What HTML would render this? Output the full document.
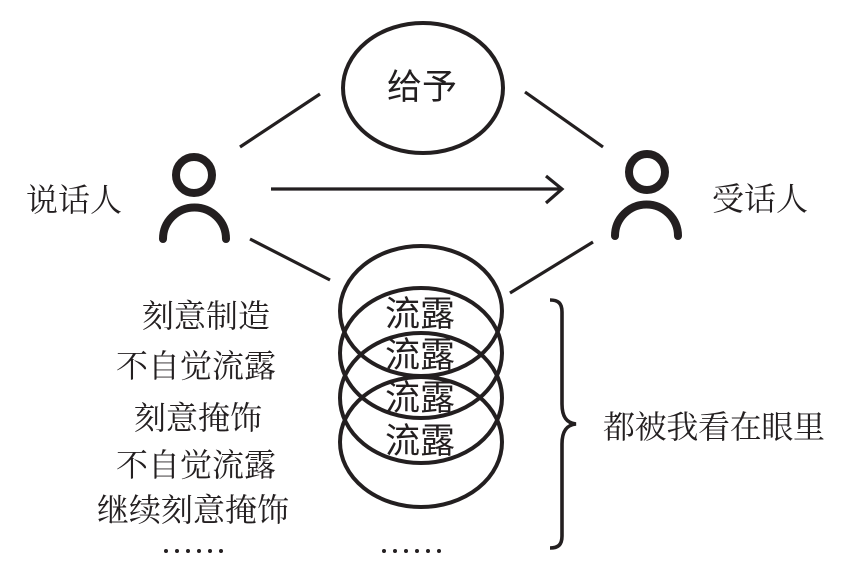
<!DOCTYPE html>
<html lang="zh"><head><meta charset="utf-8"><style>
html,body{margin:0;padding:0;background:#fff}
svg{display:block}
.s{font-family:"Liberation Serif","Noto Serif CJK SC",serif;font-size:32px;fill:#231f20}
.h{font-family:"Liberation Sans","Noto Sans CJK SC",sans-serif;font-size:35px;font-weight:400;fill:#231f20}
</style></head><body>
<svg width="851" height="587" viewBox="0 0 851 587" xmlns="http://www.w3.org/2000/svg">
<g fill="none" stroke="#231f20" stroke-width="4">
<ellipse cx="423" cy="88" rx="80" ry="65"/>
<ellipse cx="421" cy="311" rx="81" ry="65"/>
<ellipse cx="421" cy="353" rx="81" ry="65"/>
<ellipse cx="421" cy="398" rx="81" ry="65"/>
<ellipse cx="421" cy="442" rx="81" ry="65"/>
<path d="M240 147L320 94M525 92L603 147M250 239L330 280M510 293L593 242M271 189H561M546 176L562 189L546 203" stroke-width="3.2"/>
<path d="M550 300C558 300 562 303 562 312V404C562 416 566 423 576 424C566 425 562 432 562 444V536C562 545 558 548 550 548" stroke-width="3.6"/>
<g stroke-width="8" stroke-linecap="round">
<circle cx="194" cy="175" r="18"/>
<path d="M163 239A31.5 31.5 0 0 1 226 239"/>
<circle cx="647" cy="172" r="18"/>
<path d="M615 236A31.5 31.5 0 0 1 678 236"/>
</g>
</g>
<text class="h" x="387" y="99">给予</text>
<text class="h" x="385" y="326">流露</text>
<text class="h" x="385" y="367">流露</text>
<text class="h" x="385" y="410">流露</text>
<text class="h" x="385" y="453">流露</text>
<text class="s" x="26" y="211">说话人</text>
<text class="s" x="712" y="210">受话人</text>
<text class="s" x="142" y="327">刻意制造</text>
<text class="s" x="116" y="377">不自觉流露</text>
<text class="s" x="134" y="429">刻意掩饰</text>
<text class="s" x="116" y="476">不自觉流露</text>
<text class="s" x="97" y="521">继续刻意掩饰</text>
<text class="s" x="603" y="438" textLength="222">都被我看在眼里</text>
<g fill="#231f20">
<circle cx="166" cy="551" r="2"/><circle cx="177" cy="551" r="2"/><circle cx="188" cy="551" r="2"/><circle cx="199" cy="551" r="2"/><circle cx="210" cy="551" r="2"/><circle cx="221" cy="551" r="2"/>
<circle cx="384" cy="551" r="2"/><circle cx="395" cy="551" r="2"/><circle cx="406" cy="551" r="2"/><circle cx="417" cy="551" r="2"/><circle cx="428" cy="551" r="2"/><circle cx="439" cy="551" r="2"/>
</g>
</svg>
</body></html>
